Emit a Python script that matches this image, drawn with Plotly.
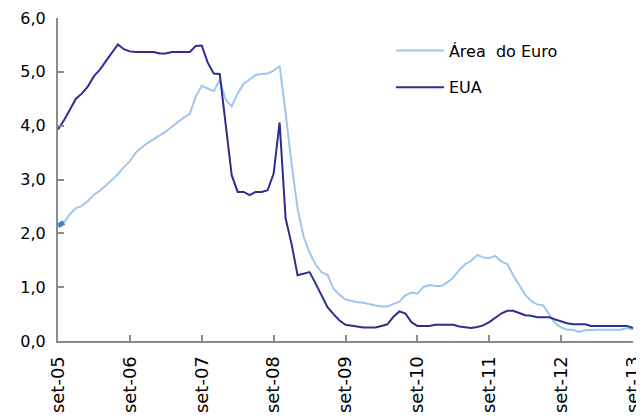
import plotly.graph_objects as go

# Monthly observations, set-05 .. set-13 (97 months)
tick_labels = ["set-05", "set-06", "set-07", "set-08", "set-09",
               "set-10", "set-11", "set-12", "set-13"]

area_euro = [2.14, 2.20, 2.36, 2.47, 2.51, 2.60, 2.72, 2.79, 2.89, 2.99,
             3.10, 3.23, 3.34, 3.50, 3.60, 3.68, 3.75, 3.82, 3.89, 3.98,
             4.07, 4.15, 4.22, 4.54, 4.74, 4.69, 4.64, 4.85, 4.48, 4.36,
             4.60, 4.78, 4.86, 4.94, 4.96, 4.97, 5.02, 5.11, 4.24, 3.29,
             2.46, 1.94, 1.64, 1.42, 1.28, 1.23, 0.97, 0.86, 0.77, 0.74,
             0.72, 0.71, 0.68, 0.66, 0.64, 0.64, 0.69, 0.73, 0.85, 0.90,
             0.88, 1.00, 1.04, 1.02, 1.02, 1.09, 1.18, 1.32, 1.43, 1.49,
             1.60, 1.55, 1.54, 1.58, 1.48, 1.43, 1.22, 1.05, 0.86, 0.74,
             0.68, 0.66, 0.50, 0.33, 0.25, 0.21, 0.21, 0.17, 0.20, 0.21,
             0.21, 0.21, 0.21, 0.21, 0.21, 0.24, 0.22]

eua = [3.93, 4.10, 4.30, 4.50, 4.60, 4.73, 4.92, 5.04, 5.20, 5.36,
       5.51, 5.42, 5.38, 5.37, 5.37, 5.37, 5.37, 5.34, 5.34, 5.37,
       5.37, 5.37, 5.37, 5.48, 5.49, 5.17, 4.97, 4.96, 4.00, 3.08,
       2.77, 2.77, 2.71, 2.77, 2.77, 2.80, 3.11, 4.06, 2.28, 1.80,
       1.22, 1.25, 1.28, 1.07, 0.85, 0.63, 0.50, 0.38, 0.30, 0.28,
       0.27, 0.25, 0.25, 0.25, 0.28, 0.31, 0.45, 0.55, 0.51, 0.35,
       0.28, 0.28, 0.28, 0.30, 0.30, 0.30, 0.30, 0.27, 0.26, 0.24,
       0.26, 0.29, 0.35, 0.43, 0.51, 0.56, 0.56, 0.52, 0.48, 0.47,
       0.44, 0.44, 0.44, 0.40, 0.36, 0.33, 0.31, 0.31, 0.31, 0.28,
       0.28, 0.28, 0.28, 0.28, 0.28, 0.28, 0.24]

months = list(range(len(area_euro)))
tick_vals = months[::12]

LIGHT = "#9FC7EE"
DARK = "#2E2E92"
AXIS = "#8C8C8C"
FONT = "DejaVu Sans, Liberation Sans, Arial, sans-serif"

fig = go.Figure()
fig.add_trace(go.Scatter(x=months, y=area_euro, mode="lines", name="Área  do Euro",
                         line=dict(color=LIGHT, width=2), legendgroup="a"))
fig.add_trace(go.Scatter(x=months, y=eua, mode="lines", name="EUA",
                         line=dict(color=DARK, width=2), legendgroup="b"))
# short thick segment visible at the start of the euro series
fig.add_trace(go.Scatter(x=months[:2], y=area_euro[:2], mode="lines",
                         line=dict(color="#4A84C6", width=5), showlegend=False,
                         hoverinfo="skip"))

# the page body has an 8px default margin, so the figure is sized to fit
fig.update_layout(
    width=636, height=411,
    margin=dict(l=50, r=11, t=10, b=78),
    paper_bgcolor="white", plot_bgcolor="white",
    separators=", ",
    font=dict(family=FONT, size=16, color="black"),
    showlegend=True,
    legend=dict(x=0.579, y=0.952, xanchor="left", yanchor="top",
                bgcolor="rgba(0,0,0,0)", font=dict(family=FONT, size=16),
                tracegroupgap=13, itemwidth=48),
)
fig.update_xaxes(range=[0, 96], tickvals=tick_vals, ticktext=tick_labels,
                 tickangle=-90, showgrid=False, zeroline=False,
                 showline=True, linecolor=AXIS, linewidth=2,
                 ticks="inside", ticklen=6, tickcolor=AXIS, tickwidth=1.5,
                 tickfont=dict(family=FONT, size=18), automargin=False,
                 ticklabeloverflow="allow", ticklabelstandoff=6)
fig.update_yaxes(range=[0, 6], dtick=1, tickformat=".1f", showgrid=False,
                 zeroline=False, showline=True, linecolor=AXIS, linewidth=2,
                 ticks="inside", ticklen=6, tickcolor=AXIS, tickwidth=1.5,
                 tickfont=dict(family=FONT, size=16), automargin=False,
                 ticklabeloverflow="allow", ticklabelstandoff=7)

fig.write_html("out.html")
